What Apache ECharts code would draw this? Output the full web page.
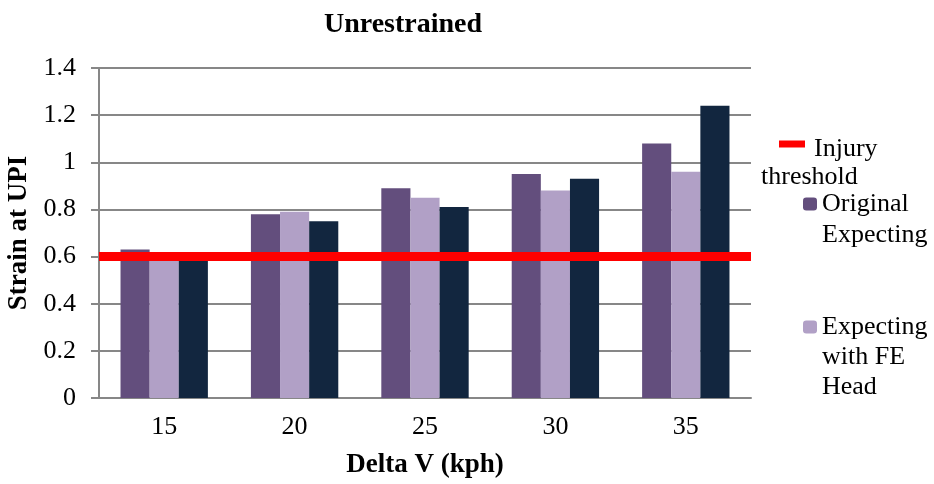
<!DOCTYPE html>
<html>
<head>
<meta charset="utf-8">
<script src="https://cdn.jsdelivr.net/npm/echarts@6/dist/echarts.min.js"></script>
<style>
  html, body { margin: 0; padding: 0; background: #fff; }
  #chart { width: 934px; height: 484px; }
</style>
</head>
<body>
<div id="chart"></div>
<script>
// Delta V categories (kph)
const categories = ['15', '20', '25', '30', '35'];
// Strain at UPI per configuration
const originalExpecting = [0.63, 0.78, 0.89, 0.95, 1.08];
const expectingFEHead = [0.60, 0.79, 0.85, 0.88, 0.96];
const thirdModel = [0.59, 0.75, 0.81, 0.93, 1.24];
// Injury threshold level, constant across the range
const injuryThreshold = [0.6, 0.6, 0.6, 0.6, 0.6];
const yTicks = { min: 0, max: 1.4, step: 0.2 };

const serif = 'Liberation Serif';
const gridColor = '#878787';
const fs = 26;

// Legend entries: an empty first line lifts the marker to the first text line
function legendBlock(opts) {
  return Object.assign({
    padding: 0,
    itemGap: 0,
    selectedMode: false,
    textStyle: { fontFamily: serif, fontSize: fs, color: '#000' }
  }, opts);
}

const chart = echarts.init(document.getElementById('chart'));
chart.setOption({
  animation: false,
  backgroundColor: '#ffffff',
  title: {
    text: 'Unrestrained',
    left: 398, top: 6, textAlign: 'center',
    textStyle: { fontFamily: serif, fontSize: 28, fontWeight: 'bold', color: '#000' }
  },
  grid: { left: 99, right: 183, top: 68, bottom: 86, containLabel: false, outerBoundsMode: 'none' },
  legend: [
    legendBlock({
      data: [{ name: 'Injury threshold', icon: 'rect' }],
      left: 761, top: 103,
      itemWidth: 26, itemHeight: 7,
      formatter: () => '{e|}\n{a|Injury}\n{b|threshold}',
      textStyle: {
        fontFamily: serif, fontSize: fs, color: '#000',
        rich: {
          e: { fontSize: fs, lineHeight: 39 },
          a: { fontFamily: serif, fontSize: fs, lineHeight: 28, padding: [0, 0, 0, 4] },
          b: { fontFamily: serif, fontSize: fs, lineHeight: 28, padding: [0, 0, 0, -49] }
        }
      }
    }),
    legendBlock({
      data: ['Original Expecting'],
      left: 803, top: 160,
      itemWidth: 14, itemHeight: 13,
      formatter: () => '{e|}\n{t|Original}\n{t|Expecting}',
      textStyle: {
        fontFamily: serif, fontSize: fs, color: '#000',
        rich: {
          e: { fontSize: fs, lineHeight: 31 },
          t: { fontFamily: serif, fontSize: fs, lineHeight: 31 }
        }
      }
    }),
    legendBlock({
      data: ['Expecting with FE Head'],
      left: 803, top: 269,
      itemWidth: 14, itemHeight: 13,
      formatter: () => '{e|}\n{t|Expecting}\n{t|with FE}\n{t|Head}',
      textStyle: {
        fontFamily: serif, fontSize: fs, color: '#000',
        rich: {
          e: { fontSize: fs, lineHeight: 60 },
          t: { fontFamily: serif, fontSize: fs, lineHeight: 30 }
        }
      }
    })
  ],
  xAxis: [
    {
      type: 'category',
      data: categories,
      name: 'Delta V (kph)',
      nameLocation: 'middle',
      nameGap: 54,
      nameTextStyle: { fontFamily: serif, fontSize: 27, fontWeight: 'bold', color: '#000' },
      axisLine: { lineStyle: { color: gridColor, width: 2 } },
      axisTick: { show: false },
      axisLabel: { fontFamily: serif, fontSize: fs, color: '#000', margin: 16 }
    },
    {
      type: 'category',
      data: categories,
      boundaryGap: false,
      show: false
    }
  ],
  yAxis: {
    type: 'value',
    min: yTicks.min, max: yTicks.max, interval: yTicks.step,
    name: 'Strain at UPI',
    nameLocation: 'middle',
    nameGap: 66,
    nameTextStyle: { fontFamily: serif, fontSize: 27, fontWeight: 'bold', color: '#000' },
    axisLine: { show: true, lineStyle: { color: gridColor, width: 2 } },
    axisTick: { show: true, length: 8, lineStyle: { color: gridColor, width: 2 } },
    axisLabel: {
      fontFamily: serif, fontSize: fs, color: '#000', margin: 23,
      formatter: v => String(Math.round(v * 10) / 10)
    },
    splitLine: { lineStyle: { color: gridColor, width: 2 } }
  },
  series: [
    {
      name: 'Original Expecting', type: 'bar', data: originalExpecting,
      itemStyle: { color: '#634E7D' }, barGap: '0%', barCategoryGap: '33%'
    },
    {
      name: 'Expecting with FE Head', type: 'bar', data: expectingFEHead,
      itemStyle: { color: '#B1A0C6' }, barGap: '0%', barCategoryGap: '33%'
    },
    {
      name: 'Series3', type: 'bar', data: thirdModel,
      itemStyle: { color: '#12263F' }, barGap: '0%', barCategoryGap: '33%'
    },
    {
      name: 'Injury threshold', type: 'line', data: injuryThreshold,
      xAxisIndex: 1,
      symbol: 'none',
      lineStyle: { color: '#FF0000', width: 9 },
      itemStyle: { color: '#FF0000' },
      z: 5
    }
  ]
});
</script>
</body>
</html>
